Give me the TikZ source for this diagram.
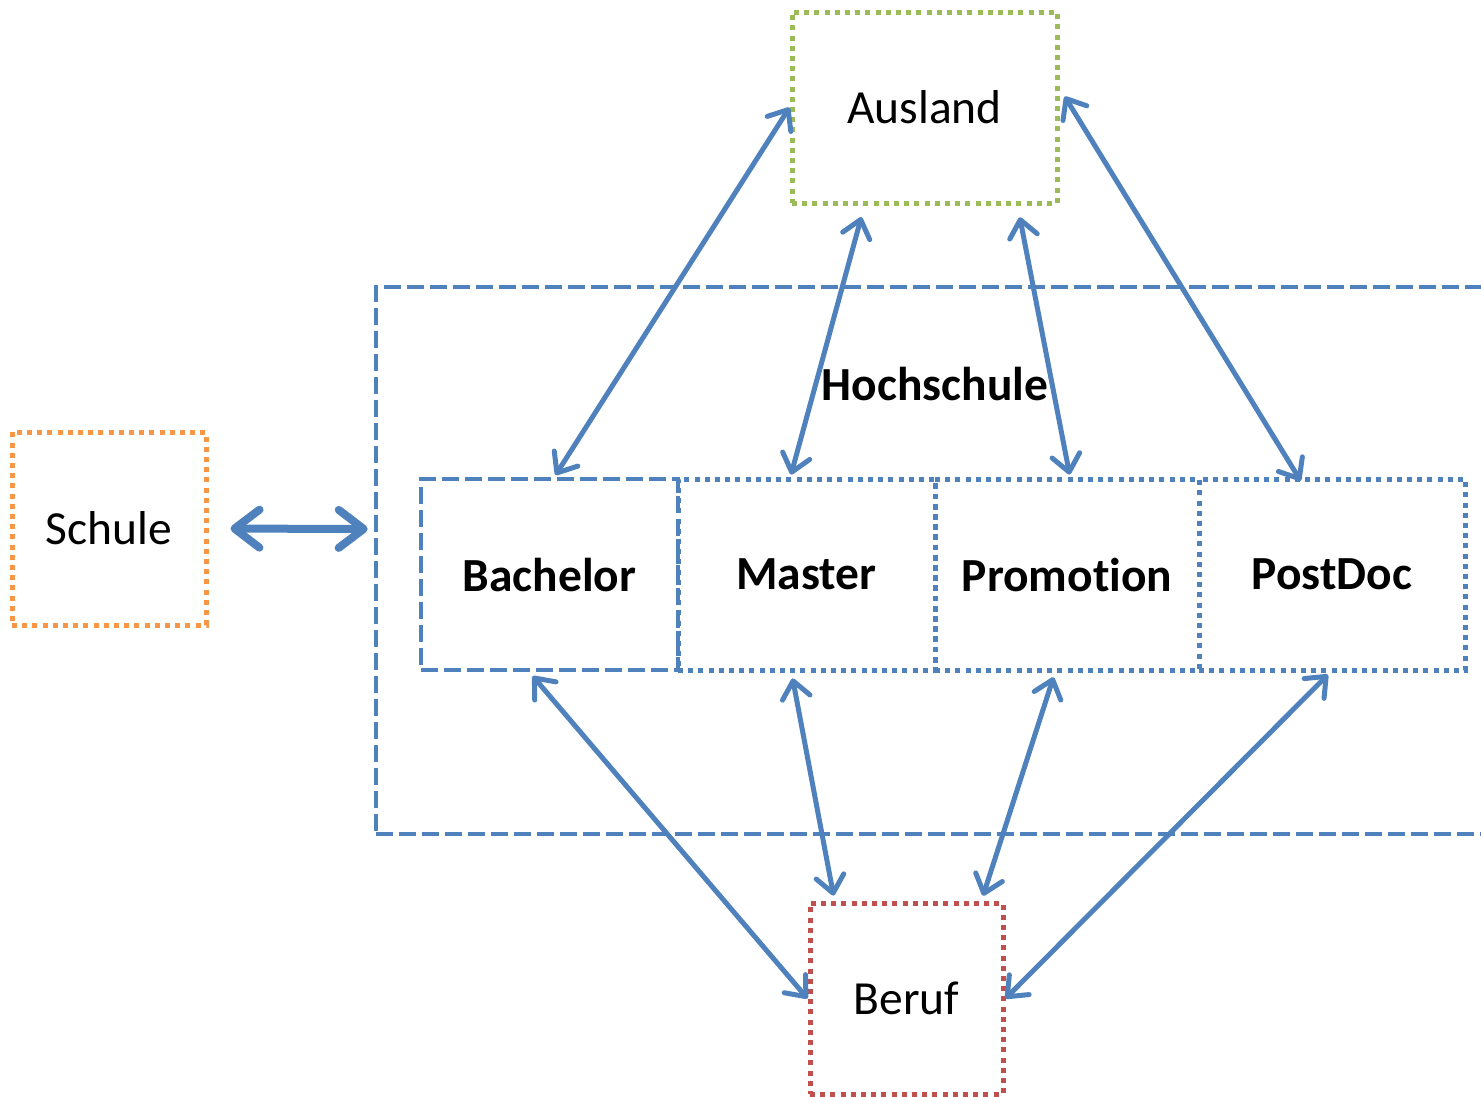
\documentclass[tikz,border=0pt]{standalone}
\usepackage{fontspec}
\setmainfont{Carlito}[Ligatures=NoCommon]
\usetikzlibrary{arrows.meta}
\definecolor{cblue}{HTML}{4F81BD}
\definecolor{cgreen}{HTML}{9BBB59}
\definecolor{corange}{HTML}{F79646}
\definecolor{cred}{HTML}{C0504D}
\tikzset{
  boxbase/.style={rectangle, inner sep=0pt, line width=5pt, fill=none,
    font=\fontsize{47.5}{56}\selectfont},
  dottedbox/.style={boxbase, dash pattern=on 5pt off 5.2pt},
  dashedbox/.style={boxbase, line width=4.6pt, dash pattern=on 17pt off 6pt},
  boldbox/.style={font=\fontsize{47.5}{56}\selectfont\bfseries},
  conn/.style={draw=cblue, line width=5pt, line cap=round, line join=round,
    {Straight Barb[length=17pt,width=28pt,line cap=round,line join=round]}-{Straight Barb[length=17pt,width=28pt,line cap=round,line join=round]}},
  bigconn/.style={draw=cblue, line width=8pt, line cap=round, line join=round,
    {Straight Barb[length=25pt,width=38pt,line cap=round,line join=round]}-{Straight Barb[length=25pt,width=38pt,line cap=round,line join=round]}},
  boldlbl/.style={font=\fontsize{47.5}{56}\selectfont\bfseries, inner sep=0pt}
}
\begin{document}
\begin{tikzpicture}[x=1pt,y=-1pt]
\useasboundingbox (0,0) rectangle (1481,1096);
\clip (0,0) rectangle (1481,1096);
% boxes
\node[dashedbox, draw=cblue, minimum width=1119pt, minimum height=547pt] (hoch) at (935.5,560.5) {};
\node[boldlbl] (hochlbl) at (935,384) {Hochschule};
\node[dottedbox, draw=cgreen, minimum width=265pt, minimum height=191pt] (aus) at (924.5,107.5) {Ausland};
\node[dottedbox, draw=corange, minimum width=194pt, minimum height=193pt] (schule) at (109,528.5) {Schule};
\node[dottedbox, draw=cred, minimum width=193pt, minimum height=191pt] (beruf) at (906.5,998.5) {Beruf};
\node[dashedbox, draw=cblue, boldbox, minimum width=257pt, minimum height=191pt] (bach) at (549.5,574.5) {Bachelor};
\node[dottedbox, draw=cblue, boldbox, minimum width=257pt, minimum height=191pt] (master) at (806.5,574.5) {Master};
\node[dottedbox, draw=cblue, boldbox, minimum width=264pt, minimum height=191pt] (prom) at (1067,574.5) {Promot\kern0pt ion};
\node[dottedbox, draw=cblue, boldbox, minimum width=266pt, minimum height=191pt] (post) at (1332,574.5) {PostDoc};
% connectors
\draw[bigconn, shorten <=22pt, shorten >=6pt] (schule.east) -- ([yshift=31.5pt]hoch.west);
\draw[conn, shorten >=2pt] (aus.west) -- ([xshift=5pt]bach.north);
\draw[conn, shorten <=12pt, shorten >=2pt] ([xshift=-60pt]aus.south) -- ([xshift=-16pt]master.north);
\draw[conn, shorten <=12pt, shorten >=2pt] ([xshift=93pt]aus.south) -- ([xshift=3pt]prom.north);
\draw[conn, shorten <=10pt, shorten >=-5pt] ([yshift=19.5pt]aus.east) -- ([xshift=-34pt]post.north);
\draw[conn, shorten <=5pt] ([xshift=-20pt]bach.south) -- (beruf.west);
\draw[conn, shorten <=6pt, shorten >=5pt] ([xshift=-15pt]master.south) -- ([xshift=-72pt]beruf.north);
\draw[conn, shorten <=5pt, shorten >=5pt] ([xshift=-12pt]prom.south) -- ([xshift=75pt]beruf.north);
\draw[conn, shorten <=3pt] ([xshift=-2pt]post.south) -- (beruf.east);
\end{tikzpicture}
\end{document}
